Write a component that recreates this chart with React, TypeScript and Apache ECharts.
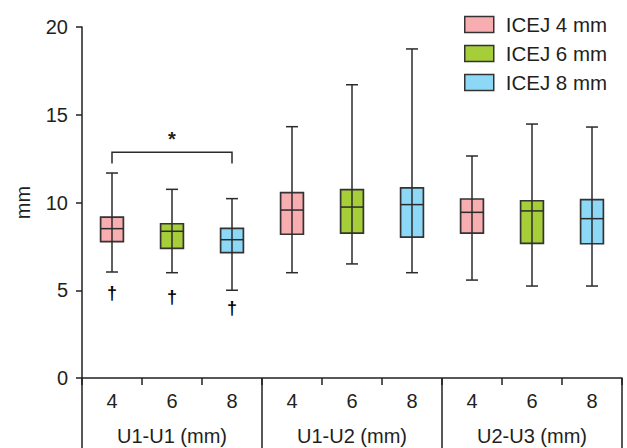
import React, { useEffect, useRef } from "react";
import * as echarts from "echarts";

const categories = ["4", "6", "8", "4", "6", "8", "4", "6", "8"];
const groups = ["U1-U1 (mm)", "U1-U2 (mm)", "U2-U3 (mm)"];
const seriesNames = ["ICEJ 4 mm", "ICEJ 6 mm", "ICEJ 8 mm"];
const colors = ["#F8ADB0", "#A6CE39", "#8DD8F7"];
// per group: [low, q1, median, q3, high]
const icej4 = [
  [6.04, 7.77, 8.51, 9.17, 11.68],
  [6.0, 8.19, 9.57, 10.56, 14.32],
  [5.58, 8.26, 9.44, 10.2, 12.65],
];
const icej6 = [
  [6.0, 7.39, 8.36, 8.79, 10.75],
  [6.5, 8.26, 9.74, 10.73, 16.71],
  [5.24, 7.67, 9.52, 10.1, 14.47],
];
const icej8 = [
  [5.0, 7.14, 7.88, 8.53, 10.22],
  [6.0, 8.03, 9.88, 10.83, 18.75],
  [5.24, 7.65, 9.08, 10.16, 14.3],
];
const yTicks = [0, 5, 10, 15, 20];
// daggers: [category index, value]
const daggers = [
  [0, 4.86],
  [1, 4.63],
  [2, 3.97],
];
// bracket: [from index, to index, top value, end value]
const bracket = [0, 2, 12.86, 12.22];
const starValue = 13.6;

const INK = "#231f20";
const FONT = "'Liberation Sans', Arial, sans-serif";
const FS = 20;

export default function App() {
  const ref = useRef<HTMLDivElement>(null);
  useEffect(() => {
    if (!ref.current) return;
    document.body.style.margin = "0";
    const chart = echarts.init(ref.current, null, { renderer: "svg" });
    const all = [icej4, icej6, icej8];
    const boxSeries = all.map((arr, si) => ({
      type: "custom",
      name: seriesNames[si],
      xAxisIndex: 0,
      yAxisIndex: 0,
      itemStyle: { color: colors[si], borderColor: "#333", borderWidth: 1.5 },
      data: arr.map((v, gi) => [gi * 3 + si, ...v]),
      renderItem: (params: any, api: any) => {
        const idx = api.value(0);
        const x = api.coord([idx, 0])[0];
        const yL = api.coord([idx, api.value(1)])[1];
        const y1 = api.coord([idx, api.value(2)])[1];
        const yM = api.coord([idx, api.value(3)])[1];
        const y3 = api.coord([idx, api.value(4)])[1];
        const yH = api.coord([idx, api.value(5)])[1];
        const bw = api.size([1, 0])[0] * 0.38;
        const cw = api.size([1, 0])[0] * 0.2;
        const ls = { stroke: "#2b2b2b", lineWidth: 1.5 };
        return {
          type: "group",
          children: [
            {
              type: "rect",
              shape: { x: x - bw / 2, y: y3, width: bw, height: y1 - y3 },
              style: { fill: colors[si], stroke: "#333", lineWidth: 1.7 },
            },
            { type: "line", shape: { x1: x, y1: yH, x2: x, y2: yL }, style: ls },
            { type: "line", shape: { x1: x - bw / 2, y1: yM, x2: x + bw / 2, y2: yM }, style: ls },
            { type: "line", shape: { x1: x - cw / 2, y1: yH, x2: x + cw / 2, y2: yH }, style: ls },
            { type: "line", shape: { x1: x - cw / 2, y1: yL, x2: x + cw / 2, y2: yL }, style: ls },
          ],
        };
      },
    }));

    const daggerSeries = {
      type: "custom",
      name: "dagger",
      itemStyle: { color: INK },
      data: daggers,
      renderItem: (params: any, api: any) => {
        const p = api.coord([api.value(0), api.value(1)]);
        return {
          type: "text",
          x: p[0],
          y: p[1],
          style: {
            text: "†",
            fontSize: 18,
            fontWeight: "bold",
            fontFamily: FONT,
            fill: "#000000",
            align: "center",
            verticalAlign: "middle",
          },
        };
      },
    };

    const bracketSeries = {
      type: "custom",
      name: "bracket",
      itemStyle: { color: INK },
      data: [bracket],
      renderItem: (params: any, api: any) => {
        const a = api.coord([api.value(0), api.value(2)]);
        const b = api.coord([api.value(1), api.value(2)]);
        const ya = api.coord([api.value(0), api.value(3)])[1];
        const s = api.coord([(api.value(0) + api.value(1)) / 2, starValue]);
        return {
          type: "group",
          children: [
            {
              type: "polyline",
              shape: {
                points: [
                  [a[0], ya],
                  [a[0], a[1]],
                  [b[0], b[1]],
                  [b[0], ya],
                ],
              },
              style: { stroke: "#2b2b2b", lineWidth: 1.5, fill: "none" },
            },
            {
              type: "text",
              x: s[0],
              y: s[1],
              style: {
                text: "*",
                fontSize: FS,
                fontWeight: "bold",
                fontFamily: FONT,
                fill: INK,
                align: "center",
                verticalAlign: "middle",
              },
            },
          ],
        };
      },
    };

    chart.setOption({
      animation: false,
      textStyle: { fontFamily: FONT },
      grid: { left: 82, right: 5, top: 27, bottom: 70, containLabel: false },
      legend: {
        data: seriesNames,
        orient: "vertical",
        left: 459,
        top: 9,
        icon: "rect",
        itemWidth: 29,
        itemHeight: 16,
        itemGap: 8,
        itemStyle: { borderColor: "#333", borderWidth: 1.5 },
        textStyle: { fontSize: 20.5, color: INK, fontFamily: FONT, padding: [0, 0, 0, 7] },
        selectedMode: false,
      },
      xAxis: [
        {
          type: "category",
          data: categories,
          position: "bottom",
          axisLine: { show: true, lineStyle: { color: INK, width: 1.5 } },
          axisTick: { show: true, length: 7, lineStyle: { color: INK, width: 1.5 } },
          axisLabel: { interval: 0, fontSize: FS, color: INK, margin: 13, fontFamily: FONT },
          splitLine: { show: false },
        },
        {
          type: "category",
          data: groups,
          position: "bottom",
          axisLine: { show: false },
          axisTick: { show: true, length: 72, lineStyle: { color: INK, width: 1.5 } },
          axisLabel: { interval: 0, fontSize: FS, color: INK, margin: 48, fontFamily: FONT },
          splitLine: { show: false },
        },
      ],
      yAxis: {
        type: "value",
        min: yTicks[0],
        max: yTicks[yTicks.length - 1],
        interval: 5,
        name: "mm",
        nameLocation: "middle",
        nameGap: 49,
        nameTextStyle: { fontSize: FS, color: INK, fontFamily: FONT },
        axisLine: { show: true, lineStyle: { color: INK, width: 1.5 } },
        axisTick: { show: true, length: 6, lineStyle: { color: INK, width: 1.5 } },
        axisLabel: { fontSize: FS, color: INK, margin: 14, fontFamily: FONT },
        splitLine: { show: false },
      },
      series: [...boxSeries, daggerSeries, bracketSeries],
    });
    return () => chart.dispose();
  }, []);
  return <div ref={ref} style={{ width: 627, height: 448 }} />;
}
